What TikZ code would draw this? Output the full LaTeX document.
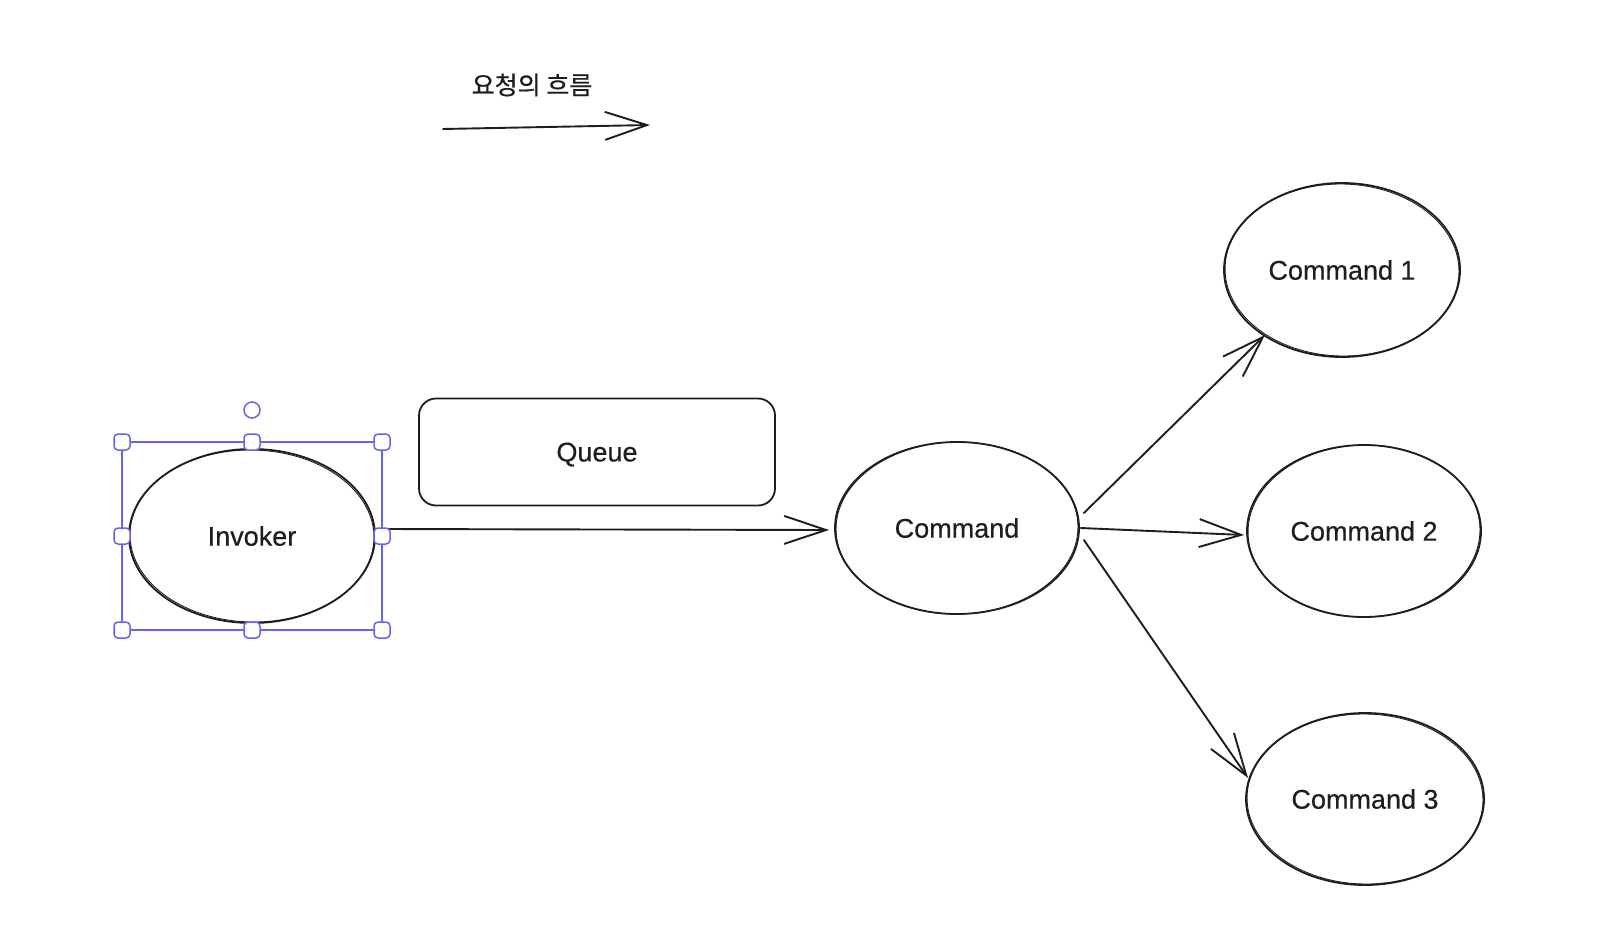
\documentclass[tikz,border=0pt]{standalone}
\usepackage{fontspec}
\setmainfont{Liberation Sans}[FakeBold=0.4]
\newfontfamily\krfont{Noto Sans CJK KR}[FakeBold=0.6]
\usetikzlibrary{arrows.meta,calc,shapes.geometric}
\definecolor{ink}{HTML}{1E1E1E}
\definecolor{sel}{HTML}{6965DB}
\tikzset{
  shapeline/.style={draw=ink, line width=1.8pt},
  elli/.style={shapeline, ellipse, inner sep=0pt, text=ink,
    font=\fontsize{27}{32}\selectfont},
  sketch/.style={draw=ink, line width=0.9pt},
  conn/.style={draw=ink, line width=1.9pt, line cap=round, line join=round,
    -{Straight Barb[length=42pt,width=28pt,line width=1.9pt]}},
  handle/.style={draw=sel, fill=white, line width=1.5pt, rounded corners=4pt,
    minimum width=16pt, minimum height=16pt, inner sep=0pt},
  rothandle/.style={draw=sel, fill=white, line width=1.5pt, circle,
    minimum size=16pt, inner sep=0pt},
}
\begin{document}
\begin{tikzpicture}[x=1pt,y=-1pt]
\useasboundingbox[fill=white] (0,0) rectangle (1608,932);

% title and flow arrow
\node[text=ink, font=\krfont\fontsize{25}{30}\selectfont] (title) at (532,85) {요청의 흐름};
\coordinate (fs) at (443,129);
\coordinate (fe) at (650,125);
\draw[conn] (fs) -- (fe);

% nodes
\node[elli, minimum width=246pt, minimum height=174pt] (inv) at (252,536) {Invoker};
\node[shapeline, rounded corners=17pt, minimum width=356pt, minimum height=107pt,
  inner sep=0pt, text=ink, font=\fontsize{27}{32}\selectfont, text depth=0pt,
  yshift=-2pt] (queue) at (597,450) {Queue};
\node[elli, minimum width=244pt, minimum height=172pt] (cmd) at (957,528) {Command};
\node[elli, minimum width=236pt, minimum height=174pt] (c1) at (1342,270) {Command 1};
\node[elli, minimum width=234pt, minimum height=172pt] (c2) at (1364,531) {Command 2};
\node[elli, minimum width=238pt, minimum height=172pt] (c3) at (1365,799) {Command 3};

% sketchy second strokes
\draw[sketch] (inv.center) ellipse[x radius=122, y radius=86, rotate=-1.2];
\draw[sketch] (cmd.center) ellipse[x radius=121, y radius=86, rotate=1];
\draw[sketch] (c1.center) ellipse[x radius=117, y radius=86, rotate=-1.2];
\draw[sketch] (c2.center) ellipse[x radius=116, y radius=86, rotate=1.2];
\draw[sketch] (c3.center) ellipse[x radius=118, y radius=85, rotate=-1];

% connectors
\draw[conn] ($(inv.east)+(8,-7)$) -- ($(cmd.west)+(-5,2)$);
\draw[conn] ($(cmd.east)+(4,-15)$) -- ($(c1.center)+(-77,65)$);
\draw[conn] ($(cmd.east)+(1,0)$) -- ($(c2.west)+(-2,4)$);
\draw[conn] ($(cmd.east)+(4,12)$) -- ($(c3.center)+(-117,-21)$);

% selection frame around Invoker
\draw[sel, line width=1.5pt] (122,442) rectangle (382,630);
\node[handle] (h1) at (122,442) {};
\node[handle] (h2) at (252,442) {};
\node[handle] (h3) at (382,442) {};
\node[handle] (h4) at (122,536) {};
\node[handle] (h5) at (382,536) {};
\node[handle] (h6) at (122,630) {};
\node[handle] (h7) at (252,630) {};
\node[handle] (h8) at (382,630) {};
\node[rothandle] (rot) at (252,410) {};
\end{tikzpicture}
\end{document}
